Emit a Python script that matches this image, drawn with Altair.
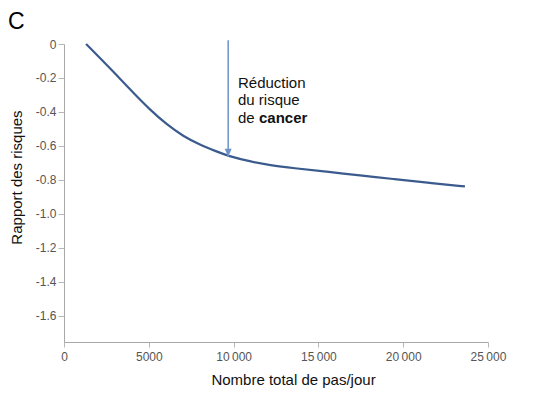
import altair as alt
import pandas as pd

# Curve: total steps/day vs risk ratio
steps = [1300, 2120, 3110, 4090, 5070, 6050, 7030, 8020, 9000, 9670,
         10970, 12150, 13520, 15490, 17450, 19420, 21380, 23640]
ratio = [0.0, -0.082, -0.184, -0.288, -0.387, -0.474, -0.543, -0.594, -0.633, -0.659,
         -0.692, -0.714, -0.731, -0.752, -0.774, -0.795, -0.816, -0.839]

# Arrow annotation
arrow_x = [9680]
arrow_top = [0.022]
arrow_tip = [-0.662]

# Annotation text lines
note_lines = ["Réduction", "du risque", "de"]
note_y = [-0.259, -0.362, -0.465]
note_bold = ["cancer"]
note_bold_y = [-0.465]
note_x = 10260

x_ticks = [0, 5000, 10000, 15000, 20000, 25000]
y_ticks = [0, -0.2, -0.4, -0.6, -0.8, -1.0, -1.2, -1.4, -1.6]

FONT = "Liberation Sans"

curve_df = pd.DataFrame({"steps": steps, "ratio": ratio})
arrow_df = pd.DataFrame({"x": arrow_x, "y1": arrow_top, "y2": arrow_tip})
note_df = pd.DataFrame({"x": [note_x] * len(note_lines), "y": note_y, "t": note_lines})
bold_df = pd.DataFrame({"x": [note_x], "y": note_bold_y, "t": note_bold})
letter_df = pd.DataFrame({"t": ["C"]})

xscale = alt.Scale(domain=[0, 25000], nice=False, zero=False)
yscale = alt.Scale(domain=[-1.755, 0], nice=False, zero=False)

x_axis = alt.Axis(
    title="Nombre total de pas/jour",
    values=x_ticks,
    tickCount=len(x_ticks) + 2,
    labelExpr="datum.value >= 10000 ? floor(datum.value/1000) + '\u2009000' : '' + datum.value",
    grid=False,
    labelFlush=False,
    labelOverlap=False,
    domainColor="#a8a8a8",
    tickColor="#b8b8b8",
    tickSize=5,
    labelPadding=4,
    labelColor="#555555",
    labelFont=FONT,
    labelFontSize=12,
    titleFont=FONT,
    titleFontSize=15,
    titleFontWeight="normal",
    titleColor="#111111",
    titleX=229,
    titleY=42,
    titleBaseline="alphabetic",
)
y_axis = alt.Axis(
    title="Rapport des risques",
    values=y_ticks,
    tickCount=len(y_ticks) + 2,
    labelExpr="datum.value == 0 ? '0' : replace(format(datum.value, '.1f'), '\u2212', '-')",
    grid=False,
    labelFlush=False,
    labelOverlap=False,
    domainColor="#a8a8a8",
    tickColor="#b8b8b8",
    tickSize=6,
    labelPadding=2,
    labelColor="#555555",
    labelFont=FONT,
    labelFontSize=12,
    titleFont=FONT,
    titleFontSize=15,
    titleFontWeight="normal",
    titleColor="#111111",
    titleX=-40,
    titleY=133,
)

curve = alt.Chart(curve_df).mark_line(
    color="#3b5b8e", strokeWidth=2.2, interpolate="basis"
).encode(
    x=alt.X("steps:Q", scale=xscale, axis=x_axis),
    y=alt.Y("ratio:Q", scale=yscale, axis=y_axis),
)

arrow_line = alt.Chart(arrow_df).mark_rule(color="#6b93c8", strokeWidth=1.5).encode(
    x=alt.X("x:Q", scale=xscale),
    y=alt.Y("y1:Q", scale=yscale),
    y2="y2:Q",
)

arrow_head = alt.Chart(arrow_df).mark_point(
    shape="M-1,-2.2L1,-2.2L0,0Z", filled=True, color="#6b93c8", opacity=1, size=50
).encode(
    x=alt.X("x:Q", scale=xscale),
    y=alt.Y("y2:Q", scale=yscale),
)

note = alt.Chart(note_df).mark_text(
    align="left", baseline="alphabetic", font=FONT, fontSize=15, color="#111111"
).encode(
    x=alt.X("x:Q", scale=xscale),
    y=alt.Y("y:Q", scale=yscale),
    text="t:N",
)

note_b = alt.Chart(bold_df).mark_text(
    align="left", baseline="alphabetic", font=FONT, fontSize=15, fontWeight="bold",
    color="#111111", dx=21
).encode(
    x=alt.X("x:Q", scale=xscale),
    y=alt.Y("y:Q", scale=yscale),
    text="t:N",
)

letter = alt.Chart(letter_df).mark_text(
    align="left", baseline="alphabetic", font=FONT, fontSize=23, color="#000000"
).encode(
    x=alt.value(-56),
    y=alt.value(-15),
    text="t:N",
)

chart = alt.layer(curve, arrow_line, arrow_head, note, note_b, letter).properties(
    width=424,
    height=298,
    autosize=alt.AutoSizeParams(type="none"),
    padding={"left": 56, "top": 36, "right": 37, "bottom": 47},
).configure_view(stroke=None)

chart.save("out.html", embed_options={"renderer": "svg", "actions": False})
